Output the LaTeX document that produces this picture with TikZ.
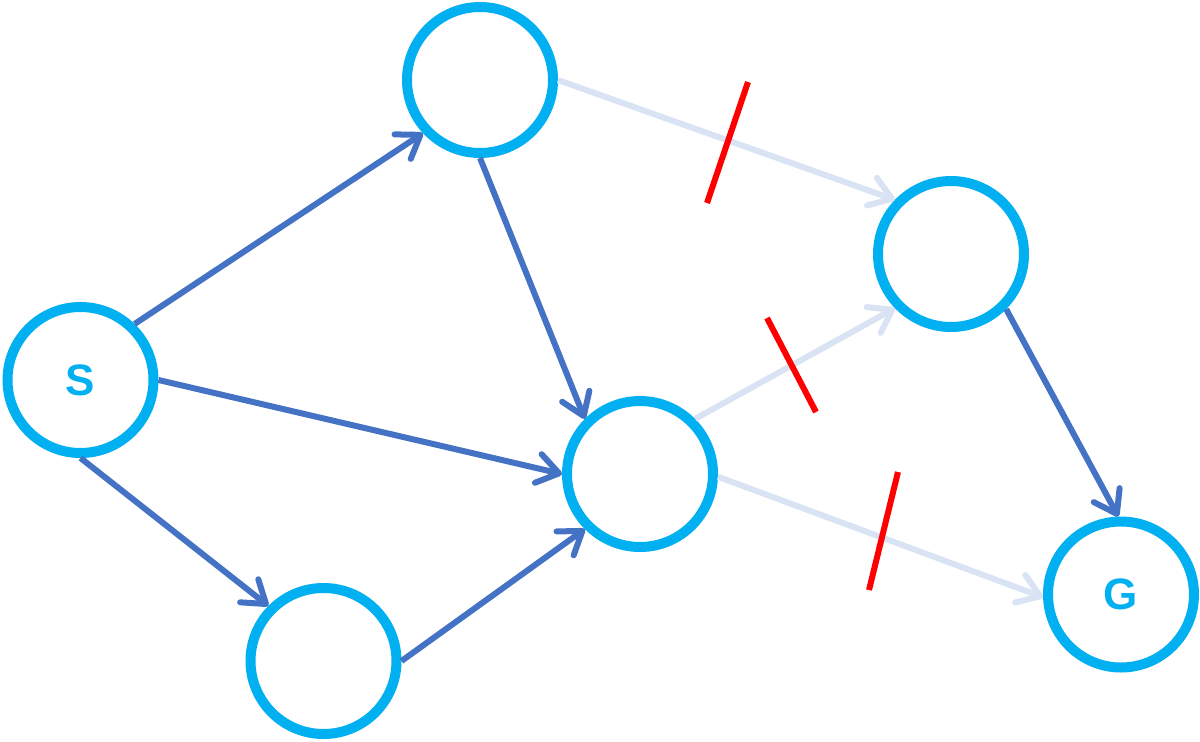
\documentclass[tikz,border=0pt]{standalone}
\usepackage{fontspec}
\newfontfamily\statefont{Liberation Sans}
\usetikzlibrary{arrows.meta}

\definecolor{ringcol}{RGB}{0,176,240}
\definecolor{pathcol}{RGB}{68,114,196}
\definecolor{cutcol}{RGB}{218,227,243}
\definecolor{markcol}{RGB}{255,0,0}

\tikzset{every picture/.style={line width=0.75pt}}
\tikzset{
  state/.style={circle, draw=ringcol, line width=7.5pt, fill=white,
    minimum size=109.5pt, inner sep=0pt, text=ringcol,
    font=\statefont\bfseries\fontsize{33}{33}\selectfont},
  go/.style={draw=pathcol, line width=4.5pt,
    -{Straight Barb[round,length=16pt,width=22pt]}},
  nogo/.style={go, draw=cutcol},
  cut/.style={draw=markcol, line width=4.5pt}
}

\begin{document}
\begin{tikzpicture}[x=0.75pt,y=0.75pt,yscale=-1,xscale=1]
\useasboundingbox (0,0) rectangle (1200,742);

% States
\node[state] (S) at (80.5,380) {S};
\node[state] (top) at (480,80) {};
\node[state] (bot) at (323.5,661) {};
\node[state] (mid) at (640,474) {};
\node[state] (right) at (951,254) {};
\node[state] (G) at (1121,594.5) {G};

% Connection
\draw[go] (S.46) -- (top.223);
\draw[go] (S.0) -- (mid.180);
\draw[go] (S.270) -- (bot.135);
\draw[go] (top.270) -- (mid.135);
\draw[go] (bot.0) -- (mid.225);
\draw[go] (right.315) -- (G.92);
% Connection (blocked)
\draw[nogo] (top.0) -- (right.136);
\draw[nogo] (mid.45) -- (right.224);
\draw[nogo] (mid.358) -- (G.182);

% Marks
\draw[cut] (748,82) -- (707,203);
\draw[cut] (767,318) -- (816,412);
\draw[cut] (898,472) -- (869,590);

\end{tikzpicture}
\end{document}
